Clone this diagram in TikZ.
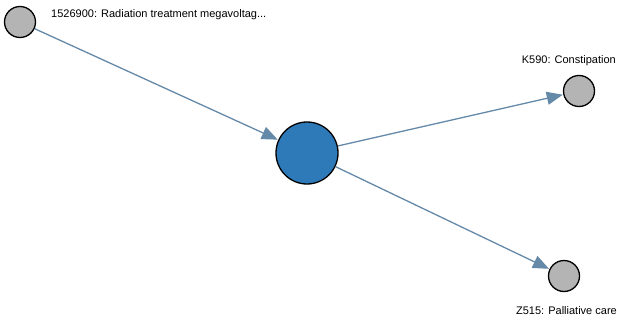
\documentclass[tikz,border=0pt]{standalone}
\usepackage{fontspec}
\setmainfont{Liberation Sans}
\usetikzlibrary{arrows.meta}
\definecolor{hubblue}{HTML}{2E7AB8}
\definecolor{leafgray}{HTML}{B4B4B4}
\definecolor{edgeblue}{HTML}{6589A8}
\begin{document}
\begin{tikzpicture}[x=1pt,y=-1pt,
  leaf/.style={circle,draw=black,line width=1.3pt,fill=leafgray,minimum size=31pt,inner sep=0pt},
  hub/.style={circle,draw=black,line width=1.3pt,fill=hubblue,minimum size=62pt,inner sep=0pt},
  link/.style={draw=edgeblue,line width=1.3pt,-{Triangle[length=16pt,width=13pt]},shorten >=0.5pt},
  lbl/.style={font=\fontsize{11}{13}\selectfont,inner sep=0pt}]
\useasboundingbox (0,0) rectangle (617,321);
\node[leaf] (rad) at (20,22) {};
\node[hub] (c) at (307,153) {};
\node[leaf] (k) at (579,91) {};
\node[leaf] (z) at (564,276) {};
\node[lbl,anchor=west] (radl) at (51,15) {1526900: Radiation treatment megavoltag...};
\node[lbl,anchor=east] (kl) at (616,61) {K590: Constipation};
\node[lbl,anchor=east] (zl) at (617,311) {Z515: Palliative care};
\draw[link] (rad) -- (c);
\draw[link] (c) -- (k);
\draw[link] (c) -- (z);
\end{tikzpicture}
\end{document}
